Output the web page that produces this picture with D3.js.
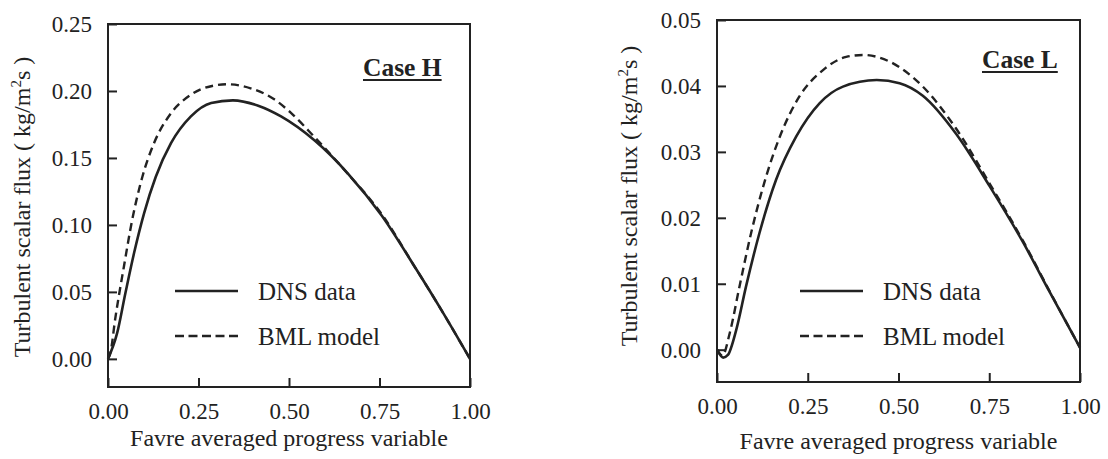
<!DOCTYPE html>
<html>
<head>
<meta charset="utf-8">
<script src="https://cdn.jsdelivr.net/npm/d3@7"></script>
<style>
  body { margin: 0; background: #fff; }
</style>
</head>
<body>
<svg id="chart" width="1108" height="459"></svg>
<script>
// Case H
const dnsH_c = [0, 0.025, 0.048, 0.072, 0.1, 0.132, 0.174, 0.229, 0.285, 0.345, 0.415, 0.478, 0.571, 0.664, 0.756, 0.849, 0.922, 1.0]
const dnsH_v = [0, 0.019, 0.049, 0.079, 0.109, 0.136, 0.161, 0.181, 0.191, 0.193, 0.189, 0.181, 0.163, 0.138, 0.107, 0.068, 0.036, 0.0]
const bmlH_c = [0, 0.007, 0.02, 0.044, 0.067, 0.095, 0.127, 0.173, 0.228, 0.292, 0.33, 0.394, 0.458, 0.504, 0.569, 0.66, 0.756, 0.849, 0.922, 1.0]
const bmlH_v = [0, 0.005, 0.03, 0.069, 0.104, 0.136, 0.161, 0.183, 0.197, 0.204, 0.205, 0.202, 0.194, 0.184, 0.166, 0.139, 0.108, 0.068, 0.036, 0.0]

// Case L
const dnsL_c = [0, 0.017, 0.03, 0.053, 0.08, 0.117, 0.163, 0.218, 0.283, 0.347, 0.44, 0.503, 0.567, 0.659, 0.751, 0.843, 0.916, 1.0]
const dnsL_v = [0, -0.0012, -0.0008, 0.003, 0.0096, 0.0177, 0.0258, 0.0323, 0.0374, 0.0399, 0.0409, 0.0404, 0.0385, 0.0327, 0.0248, 0.0163, 0.0088, 0.0003]
const bmlL_c = [0, 0.015, 0.035, 0.062, 0.094, 0.127, 0.173, 0.227, 0.292, 0.356, 0.402, 0.475, 0.567, 0.659, 0.751, 0.843, 0.916, 1.0]
const bmlL_v = [0, -0.0009, 0.0025, 0.0096, 0.0177, 0.0247, 0.0323, 0.0384, 0.0424, 0.0444, 0.0447, 0.0437, 0.0399, 0.0335, 0.0252, 0.0165, 0.0089, 0.0003]

const xTicks = [0, 0.25, 0.5, 0.75, 1.0]
const yTicksH = [0, 0.05, 0.10, 0.15, 0.20, 0.25]
const yTicksL = [0, 0.01, 0.02, 0.03, 0.04, 0.05]
const legendLabels = ['DNS data', 'BML model']
const xTitle = 'Favre averaged progress variable'

const svg = d3.select('#chart')
const ink = '#222'
const serif = '"Liberation Serif", "Times New Roman", serif'

function label (sel, size) {
    return sel.style('font-family', serif).attr('font-size', size).attr('fill', ink)
}

function panel ({ left, right, top, bottom, yDomain, yTicks, dns, bml, caseLabel, casePos, yTitlePos, xTitleY, legend }) {

    const x = d3.scaleLinear().domain([0, 1]).range([left, right])
    const y = d3.scaleLinear().domain(yDomain).range([bottom, top])
    const g = svg.append('g')

    const line = d3.line()
        .x(d => x(d[0]))
        .y(d => y(d[1]))
        .curve(d3.curveMonotoneX)

    // curves
    g.append('path')
        .datum(d3.zip(bml[0], bml[1]))
        .attr('d', line)
        .attr('fill', 'none')
        .attr('stroke', ink)
        .attr('stroke-width', 2.4)
        .attr('stroke-dasharray', '8,5')

    g.append('path')
        .datum(d3.zip(dns[0], dns[1]))
        .attr('d', line)
        .attr('fill', 'none')
        .attr('stroke', ink)
        .attr('stroke-width', 2.6)

    // frame
    g.append('rect')
        .attr('x', left).attr('y', top)
        .attr('width', right - left).attr('height', bottom - top)
        .attr('fill', 'none').attr('stroke', ink).attr('stroke-width', 2)

    // axes, ticks inward
    const yAxis = d3.axisLeft(y).tickValues(yTicks).tickSize(-9).tickPadding(16).tickFormat(d3.format('.2f'))
    const ya = g.append('g').attr('transform', `translate(${left},0)`).call(yAxis)
    ya.select('.domain').remove()
    ya.selectAll('line').attr('stroke', ink).attr('stroke-width', 2)
    label(ya.selectAll('text'), 23)

    const xAxis = d3.axisBottom(x).tickValues(xTicks).tickSize(-9).tickFormat(d3.format('.2f'))
    const xa = g.append('g').attr('transform', `translate(0,${bottom})`).call(xAxis)
    xa.select('.domain').remove()
    xa.selectAll('line').attr('stroke', ink).attr('stroke-width', 2)
    label(xa.selectAll('text'), 23).attr('y', 32).attr('dy', 0)

    // titles
    label(g.append('text'), 24)
        .attr('x', (left + right) / 2).attr('y', xTitleY)
        .attr('text-anchor', 'middle')
        .text(xTitle)

    const yt = label(g.append('text'), 24)
        .attr('transform', `translate(${yTitlePos[0]},${yTitlePos[1]}) rotate(-90)`)
        .attr('text-anchor', 'middle')
    yt.append('tspan').text('Turbulent scalar flux ( kg/m')
    yt.append('tspan').attr('font-size', 15).attr('dy', -9).text('2')
    yt.append('tspan').attr('dy', 9).text('s )')

    // case label
    const cl = label(g.append('text'), 25.5)
        .attr('x', casePos[0]).attr('y', casePos[1])
        .attr('font-weight', 'bold')
        .text(caseLabel)
    const w = cl.node().getComputedTextLength()
    g.append('line')
        .attr('x1', casePos[0]).attr('x2', casePos[0] + w)
        .attr('y1', casePos[1] + 4).attr('y2', casePos[1] + 4)
        .attr('stroke', ink).attr('stroke-width', 1.8)

    // legend
    legendLabels.forEach((text, i) => {
        const ly = legend[1] + i * 45
        g.append('line')
            .attr('x1', legend[0]).attr('x2', legend[0] + 63)
            .attr('y1', ly).attr('y2', ly)
            .attr('stroke', ink).attr('stroke-width', i ? 2.4 : 2.6)
            .attr('stroke-dasharray', i ? '9,4.5' : null)
        label(g.append('text'), 25)
            .attr('x', legend[0] + 83).attr('y', ly).attr('dy', '0.35em')
            .text(text)
    })
}

panel({
    left: 108, right: 470, top: 24, bottom: 387,
    yDomain: [-0.021, 0.25], yTicks: yTicksH,
    dns: [dnsH_c, dnsH_v], bml: [bmlH_c, bmlH_v],
    caseLabel: 'Case H', casePos: [363, 76],
    yTitlePos: [30, 207], xTitleY: 446,
    legend: [175, 291]
})

panel({
    left: 717, right: 1080, top: 20, bottom: 382,
    yDomain: [-0.0049, 0.05], yTicks: yTicksL,
    dns: [dnsL_c, dnsL_v], bml: [bmlL_c, bmlL_v],
    caseLabel: 'Case L', casePos: [982, 68],
    yTitlePos: [637, 196], xTitleY: 449,
    legend: [800, 291]
})
</script>
</body>
</html>
